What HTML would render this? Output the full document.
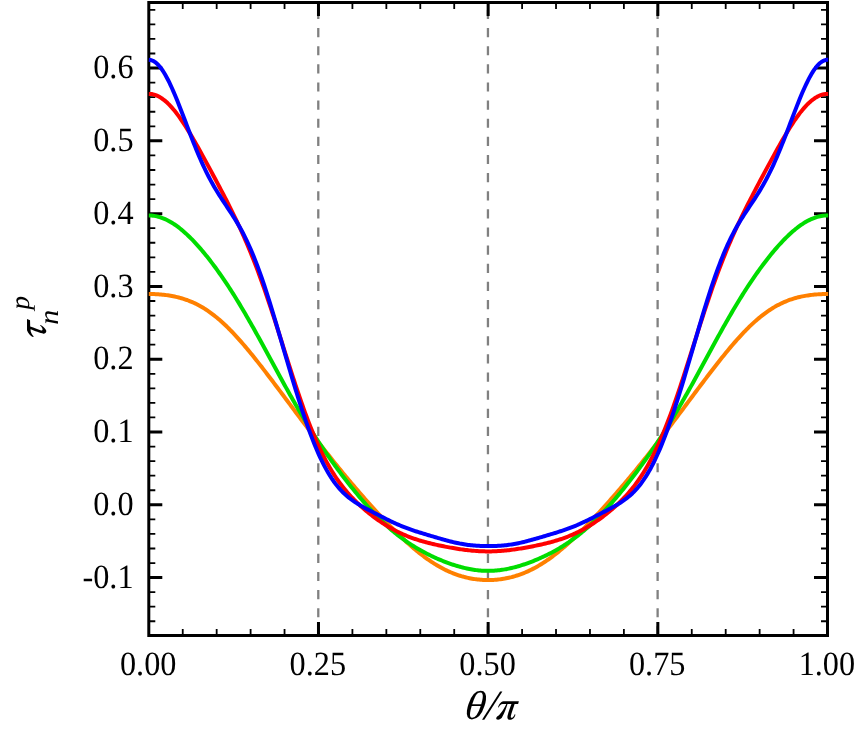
<!DOCTYPE html>
<html><head><meta charset="utf-8"><title>chart</title>
<style>
html,body{margin:0;padding:0;background:#fff;}
body{width:859px;height:739px;position:relative;overflow:hidden;font-family:"Liberation Serif",serif;}
.t{font-family:"Liberation Serif",serif;fill:#000;text-rendering:geometricPrecision;}
</style></head><body>
<svg width="859" height="739" viewBox="0 0 859 739" style="position:absolute;left:0;top:0">
<rect x="0" y="0" width="859" height="739" fill="#fff"/>
<path d="M318.28,635.50 V2.50" stroke="#808080" stroke-width="2.3" stroke-dasharray="9.2 8.93" fill="none"/>
<path d="M487.95,635.50 V2.50" stroke="#808080" stroke-width="2.3" stroke-dasharray="9.2 8.93" fill="none"/>
<path d="M657.62,635.50 V2.50" stroke="#808080" stroke-width="2.3" stroke-dasharray="9.2 8.93" fill="none"/>
<rect x="148.80" y="2.50" width="678.70" height="633.00" fill="none" stroke="#000" stroke-width="3"/>
<path d="M318.48,2.50 v13.50 M318.48,635.50 v-13.50 M488.15,2.50 v13.50 M488.15,635.50 v-13.50 M657.83,2.50 v13.50 M657.83,635.50 v-13.50 M148.80,577.60 h13.50 M827.50,577.60 h-13.50 M148.80,504.81 h13.50 M827.50,504.81 h-13.50 M148.80,432.02 h13.50 M827.50,432.02 h-13.50 M148.80,359.23 h13.50 M827.50,359.23 h-13.50 M148.80,286.44 h13.50 M827.50,286.44 h-13.50 M148.80,213.65 h13.50 M827.50,213.65 h-13.50 M148.80,140.86 h13.50 M827.50,140.86 h-13.50 M148.80,68.07 h13.50 M827.50,68.07 h-13.50" stroke="#000" stroke-width="3" fill="none"/>
<path d="M182.74,2.50 v6.50 M182.74,635.50 v-6.50 M216.67,2.50 v6.50 M216.67,635.50 v-6.50 M250.61,2.50 v6.50 M250.61,635.50 v-6.50 M284.54,2.50 v6.50 M284.54,635.50 v-6.50 M352.41,2.50 v6.50 M352.41,635.50 v-6.50 M386.35,2.50 v6.50 M386.35,635.50 v-6.50 M420.28,2.50 v6.50 M420.28,635.50 v-6.50 M454.22,2.50 v6.50 M454.22,635.50 v-6.50 M522.09,2.50 v6.50 M522.09,635.50 v-6.50 M556.02,2.50 v6.50 M556.02,635.50 v-6.50 M589.96,2.50 v6.50 M589.96,635.50 v-6.50 M623.89,2.50 v6.50 M623.89,635.50 v-6.50 M691.76,2.50 v6.50 M691.76,635.50 v-6.50 M725.70,2.50 v6.50 M725.70,635.50 v-6.50 M759.63,2.50 v6.50 M759.63,635.50 v-6.50 M793.57,2.50 v6.50 M793.57,635.50 v-6.50 M148.80,621.27 h6.50 M827.50,621.27 h-6.50 M148.80,606.72 h6.50 M827.50,606.72 h-6.50 M148.80,592.16 h6.50 M827.50,592.16 h-6.50 M148.80,563.04 h6.50 M827.50,563.04 h-6.50 M148.80,548.48 h6.50 M827.50,548.48 h-6.50 M148.80,533.93 h6.50 M827.50,533.93 h-6.50 M148.80,519.37 h6.50 M827.50,519.37 h-6.50 M148.80,490.25 h6.50 M827.50,490.25 h-6.50 M148.80,475.69 h6.50 M827.50,475.69 h-6.50 M148.80,461.14 h6.50 M827.50,461.14 h-6.50 M148.80,446.58 h6.50 M827.50,446.58 h-6.50 M148.80,417.46 h6.50 M827.50,417.46 h-6.50 M148.80,402.90 h6.50 M827.50,402.90 h-6.50 M148.80,388.35 h6.50 M827.50,388.35 h-6.50 M148.80,373.79 h6.50 M827.50,373.79 h-6.50 M148.80,344.67 h6.50 M827.50,344.67 h-6.50 M148.80,330.11 h6.50 M827.50,330.11 h-6.50 M148.80,315.56 h6.50 M827.50,315.56 h-6.50 M148.80,301.00 h6.50 M827.50,301.00 h-6.50 M148.80,271.88 h6.50 M827.50,271.88 h-6.50 M148.80,257.32 h6.50 M827.50,257.32 h-6.50 M148.80,242.77 h6.50 M827.50,242.77 h-6.50 M148.80,228.21 h6.50 M827.50,228.21 h-6.50 M148.80,199.09 h6.50 M827.50,199.09 h-6.50 M148.80,184.53 h6.50 M827.50,184.53 h-6.50 M148.80,169.98 h6.50 M827.50,169.98 h-6.50 M148.80,155.42 h6.50 M827.50,155.42 h-6.50 M148.80,126.30 h6.50 M827.50,126.30 h-6.50 M148.80,111.74 h6.50 M827.50,111.74 h-6.50 M148.80,97.19 h6.50 M827.50,97.19 h-6.50 M148.80,82.63 h6.50 M827.50,82.63 h-6.50 M148.80,53.51 h6.50 M827.50,53.51 h-6.50 M148.80,38.95 h6.50 M827.50,38.95 h-6.50 M148.80,24.40 h6.50 M827.50,24.40 h-6.50 M148.80,9.84 h6.50 M827.50,9.84 h-6.50" stroke="#000" stroke-width="1.8" fill="none"/>
<path d="M148.80,294.01 L150.16,294.02 L151.52,294.04 L152.88,294.07 L154.24,294.11 L155.59,294.17 L156.95,294.24 L158.31,294.33 L159.67,294.43 L161.03,294.54 L162.39,294.66 L163.75,294.80 L165.11,294.96 L166.46,295.13 L167.82,295.32 L169.18,295.53 L170.54,295.75 L171.90,295.99 L173.26,296.25 L174.62,296.53 L175.98,296.83 L177.33,297.14 L178.69,297.48 L180.05,297.84 L181.41,298.23 L182.77,298.63 L184.13,299.06 L185.49,299.52 L186.85,299.99 L188.21,300.50 L189.56,301.03 L190.92,301.58 L192.28,302.16 L193.64,302.77 L195.00,303.41 L196.36,304.07 L197.72,304.77 L199.08,305.49 L200.43,306.24 L201.79,307.02 L203.15,307.83 L204.51,308.67 L205.87,309.54 L207.23,310.43 L208.59,311.36 L209.95,312.32 L211.30,313.31 L212.66,314.32 L214.02,315.37 L215.38,316.45 L216.74,317.55 L218.10,318.69 L219.46,319.85 L220.82,321.04 L222.18,322.25 L223.53,323.50 L224.89,324.77 L226.25,326.07 L227.61,327.39 L228.97,328.74 L230.33,330.11 L231.69,331.50 L233.05,332.92 L234.40,334.36 L235.76,335.83 L237.12,337.31 L238.48,338.82 L239.84,340.34 L241.20,341.89 L242.56,343.45 L243.92,345.03 L245.27,346.63 L246.63,348.24 L247.99,349.87 L249.35,351.51 L250.71,353.17 L252.07,354.84 L253.43,356.52 L254.79,358.22 L256.15,359.92 L257.50,361.64 L258.86,363.37 L260.22,365.11 L261.58,366.85 L262.94,368.61 L264.30,370.37 L265.66,372.14 L267.02,373.91 L268.37,375.69 L269.73,377.48 L271.09,379.27 L272.45,381.07 L273.81,382.87 L275.17,384.67 L276.53,386.48 L277.89,388.29 L279.24,390.11 L280.60,391.92 L281.96,393.74 L283.32,395.56 L284.68,397.38 L286.04,399.20 L287.40,401.02 L288.76,402.84 L290.12,404.66 L291.47,406.48 L292.83,408.30 L294.19,410.12 L295.55,411.93 L296.91,413.75 L298.27,415.56 L299.63,417.38 L300.99,419.19 L302.34,420.99 L303.70,422.80 L305.06,424.60 L306.42,426.40 L307.78,428.19 L309.14,429.99 L310.50,431.77 L311.86,433.56 L313.21,435.34 L314.57,437.11 L315.93,438.88 L317.29,440.65 L318.65,442.41 L320.01,444.17 L321.37,445.92 L322.73,447.67 L324.09,449.41 L325.44,451.15 L326.80,452.88 L328.16,454.60 L329.52,456.32 L330.88,458.03 L332.24,459.74 L333.60,461.44 L334.96,463.13 L336.31,464.82 L337.67,466.50 L339.03,468.17 L340.39,469.84 L341.75,471.50 L343.11,473.16 L344.47,474.80 L345.83,476.44 L347.18,478.08 L348.54,479.71 L349.90,481.33 L351.26,482.94 L352.62,484.55 L353.98,486.15 L355.34,487.74 L356.70,489.33 L358.06,490.91 L359.41,492.48 L360.77,494.05 L362.13,495.61 L363.49,497.16 L364.85,498.70 L366.21,500.24 L367.57,501.77 L368.93,503.30 L370.28,504.81 L371.64,506.32 L373.00,507.82 L374.36,509.32 L375.72,510.81 L377.08,512.29 L378.44,513.76 L379.80,515.22 L381.15,516.68 L382.51,518.12 L383.87,519.56 L385.23,520.99 L386.59,522.41 L387.95,523.82 L389.31,525.22 L390.67,526.61 L392.03,527.99 L393.38,529.36 L394.74,530.72 L396.10,532.07 L397.46,533.41 L398.82,534.73 L400.18,536.05 L401.54,537.34 L402.90,538.63 L404.25,539.90 L405.61,541.16 L406.97,542.40 L408.33,543.63 L409.69,544.84 L411.05,546.04 L412.41,547.22 L413.77,548.39 L415.12,549.53 L416.48,550.66 L417.84,551.77 L419.20,552.87 L420.56,553.94 L421.92,555.00 L423.28,556.03 L424.64,557.05 L426.00,558.04 L427.35,559.01 L428.71,559.97 L430.07,560.90 L431.43,561.81 L432.79,562.70 L434.15,563.57 L435.51,564.41 L436.87,565.23 L438.22,566.03 L439.58,566.81 L440.94,567.57 L442.30,568.30 L443.66,569.01 L445.02,569.69 L446.38,570.36 L447.74,571.00 L449.09,571.61 L450.45,572.21 L451.81,572.78 L453.17,573.33 L454.53,573.85 L455.89,574.36 L457.25,574.84 L458.61,575.30 L459.97,575.73 L461.32,576.15 L462.68,576.54 L464.04,576.91 L465.40,577.26 L466.76,577.59 L468.12,577.90 L469.48,578.18 L470.84,578.45 L472.19,578.69 L473.55,578.92 L474.91,579.12 L476.27,579.30 L477.63,579.47 L478.99,579.61 L480.35,579.73 L481.71,579.83 L483.06,579.92 L484.42,579.98 L485.78,580.03 L487.14,580.05 L488.50,580.05 L489.86,580.04 L491.22,580.01 L492.58,579.95 L493.94,579.88 L495.29,579.78 L496.65,579.67 L498.01,579.54 L499.37,579.38 L500.73,579.21 L502.09,579.02 L503.45,578.80 L504.81,578.57 L506.16,578.31 L507.52,578.04 L508.88,577.74 L510.24,577.42 L511.60,577.09 L512.96,576.72 L514.32,576.34 L515.68,575.94 L517.03,575.51 L518.39,575.06 L519.75,574.59 L521.11,574.10 L522.47,573.59 L523.83,573.05 L525.19,572.49 L526.55,571.90 L527.91,571.30 L529.26,570.67 L530.62,570.02 L531.98,569.34 L533.34,568.64 L534.70,567.92 L536.06,567.18 L537.42,566.41 L538.78,565.62 L540.13,564.81 L541.49,563.98 L542.85,563.12 L544.21,562.24 L545.57,561.34 L546.93,560.42 L548.29,559.48 L549.65,558.52 L551.00,557.53 L552.36,556.53 L553.72,555.50 L555.08,554.45 L556.44,553.39 L557.80,552.31 L559.16,551.20 L560.52,550.08 L561.88,548.94 L563.23,547.79 L564.59,546.62 L565.95,545.43 L567.31,544.22 L568.67,543.00 L570.03,541.76 L571.39,540.51 L572.75,539.25 L574.10,537.97 L575.46,536.68 L576.82,535.37 L578.18,534.05 L579.54,532.72 L580.90,531.38 L582.26,530.03 L583.62,528.66 L584.97,527.28 L586.33,525.90 L587.69,524.50 L589.05,523.10 L590.41,521.68 L591.77,520.25 L593.13,518.82 L594.49,517.38 L595.85,515.93 L597.20,514.47 L598.56,513.00 L599.92,511.52 L601.28,510.04 L602.64,508.55 L604.00,507.05 L605.36,505.55 L606.72,504.03 L608.07,502.51 L609.43,500.98 L610.79,499.45 L612.15,497.91 L613.51,496.36 L614.87,494.80 L616.23,493.24 L617.59,491.67 L618.94,490.10 L620.30,488.51 L621.66,486.92 L623.02,485.32 L624.38,483.72 L625.74,482.11 L627.10,480.49 L628.46,478.87 L629.82,477.24 L631.17,475.60 L632.53,473.96 L633.89,472.30 L635.25,470.65 L636.61,468.98 L637.97,467.31 L639.33,465.63 L640.69,463.95 L642.04,462.26 L643.40,460.56 L644.76,458.86 L646.12,457.15 L647.48,455.43 L648.84,453.71 L650.20,451.99 L651.56,450.25 L652.91,448.51 L654.27,446.77 L655.63,445.02 L656.99,443.27 L658.35,441.51 L659.71,439.74 L661.07,437.97 L662.43,436.20 L663.79,434.42 L665.14,432.64 L666.50,430.85 L667.86,429.06 L669.22,427.27 L670.58,425.47 L671.94,423.67 L673.30,421.87 L674.66,420.06 L676.01,418.25 L677.37,416.44 L678.73,414.63 L680.09,412.81 L681.45,411.00 L682.81,409.18 L684.17,407.36 L685.53,405.54 L686.88,403.72 L688.24,401.90 L689.60,400.08 L690.96,398.26 L692.32,396.44 L693.68,394.62 L695.04,392.80 L696.40,390.99 L697.76,389.17 L699.11,387.36 L700.47,385.55 L701.83,383.74 L703.19,381.94 L704.55,380.14 L705.91,378.35 L707.27,376.56 L708.63,374.77 L709.98,373.00 L711.34,371.22 L712.70,369.46 L714.06,367.70 L715.42,365.95 L716.78,364.21 L718.14,362.48 L719.50,360.76 L720.85,359.04 L722.21,357.34 L723.57,355.65 L724.93,353.98 L726.29,352.31 L727.65,350.66 L729.01,349.03 L730.37,347.41 L731.73,345.80 L733.08,344.21 L734.44,342.64 L735.80,341.09 L737.16,339.55 L738.52,338.04 L739.88,336.54 L741.24,335.07 L742.60,333.62 L743.95,332.19 L745.31,330.78 L746.67,329.40 L748.03,328.04 L749.39,326.70 L750.75,325.39 L752.11,324.11 L753.47,322.85 L754.82,321.62 L756.18,320.42 L757.54,319.24 L758.90,318.10 L760.26,316.98 L761.62,315.89 L762.98,314.83 L764.34,313.80 L765.70,312.80 L767.05,311.82 L768.41,310.88 L769.77,309.97 L771.13,309.08 L772.49,308.23 L773.85,307.41 L775.21,306.61 L776.57,305.85 L777.92,305.11 L779.28,304.41 L780.64,303.73 L782.00,303.08 L783.36,302.45 L784.72,301.86 L786.08,301.29 L787.44,300.75 L788.79,300.23 L790.15,299.74 L791.51,299.28 L792.87,298.84 L794.23,298.42 L795.59,298.03 L796.95,297.66 L798.31,297.31 L799.67,296.98 L801.02,296.67 L802.38,296.38 L803.74,296.11 L805.10,295.86 L806.46,295.63 L807.82,295.42 L809.18,295.22 L810.54,295.04 L811.89,294.88 L813.25,294.73 L814.61,294.60 L815.97,294.48 L817.33,294.37 L818.69,294.28 L820.05,294.20 L821.41,294.14 L822.76,294.09 L824.12,294.05 L825.48,294.03 L826.84,294.01 L828.20,294.02" stroke="#ff8000" stroke-width="4" fill="none" stroke-linejoin="round"/>
<path d="M148.80,215.47 L150.16,215.49 L151.52,215.57 L152.88,215.70 L154.24,215.88 L155.59,216.11 L156.95,216.40 L158.31,216.73 L159.67,217.12 L161.03,217.55 L162.39,218.03 L163.75,218.57 L165.11,219.15 L166.46,219.77 L167.82,220.45 L169.18,221.17 L170.54,221.94 L171.90,222.75 L173.26,223.61 L174.62,224.50 L175.98,225.44 L177.33,226.43 L178.69,227.45 L180.05,228.51 L181.41,229.61 L182.77,230.75 L184.13,231.93 L185.49,233.14 L186.85,234.39 L188.21,235.67 L189.56,236.99 L190.92,238.33 L192.28,239.72 L193.64,241.13 L195.00,242.57 L196.36,244.05 L197.72,245.55 L199.08,247.08 L200.43,248.64 L201.79,250.23 L203.15,251.85 L204.51,253.49 L205.87,255.16 L207.23,256.85 L208.59,258.57 L209.95,260.32 L211.30,262.09 L212.66,263.89 L214.02,265.71 L215.38,267.55 L216.74,269.42 L218.10,271.31 L219.46,273.23 L220.82,275.17 L222.18,277.13 L223.53,279.11 L224.89,281.12 L226.25,283.15 L227.61,285.20 L228.97,287.28 L230.33,289.38 L231.69,291.50 L233.05,293.64 L234.40,295.80 L235.76,297.98 L237.12,300.19 L238.48,302.41 L239.84,304.65 L241.20,306.92 L242.56,309.20 L243.92,311.50 L245.27,313.82 L246.63,316.15 L247.99,318.51 L249.35,320.88 L250.71,323.26 L252.07,325.66 L253.43,328.07 L254.79,330.49 L256.15,332.93 L257.50,335.38 L258.86,337.84 L260.22,340.31 L261.58,342.78 L262.94,345.27 L264.30,347.76 L265.66,350.26 L267.02,352.76 L268.37,355.26 L269.73,357.77 L271.09,360.27 L272.45,362.78 L273.81,365.29 L275.17,367.79 L276.53,370.29 L277.89,372.79 L279.24,375.28 L280.60,377.76 L281.96,380.24 L283.32,382.71 L284.68,385.17 L286.04,387.62 L287.40,390.07 L288.76,392.49 L290.12,394.91 L291.47,397.31 L292.83,399.70 L294.19,402.08 L295.55,404.44 L296.91,406.79 L298.27,409.12 L299.63,411.43 L300.99,413.73 L302.34,416.01 L303.70,418.27 L305.06,420.52 L306.42,422.74 L307.78,424.95 L309.14,427.15 L310.50,429.32 L311.86,431.48 L313.21,433.61 L314.57,435.73 L315.93,437.84 L317.29,439.92 L318.65,441.99 L320.01,444.04 L321.37,446.08 L322.73,448.09 L324.09,450.09 L325.44,452.08 L326.80,454.05 L328.16,456.00 L329.52,457.93 L330.88,459.85 L332.24,461.76 L333.60,463.65 L334.96,465.53 L336.31,467.39 L337.67,469.23 L339.03,471.06 L340.39,472.88 L341.75,474.69 L343.11,476.48 L344.47,478.25 L345.83,480.01 L347.18,481.76 L348.54,483.50 L349.90,485.21 L351.26,486.92 L352.62,488.61 L353.98,490.29 L355.34,491.95 L356.70,493.60 L358.06,495.23 L359.41,496.85 L360.77,498.45 L362.13,500.04 L363.49,501.61 L364.85,503.16 L366.21,504.70 L367.57,506.22 L368.93,507.72 L370.28,509.21 L371.64,510.68 L373.00,512.13 L374.36,513.56 L375.72,514.97 L377.08,516.37 L378.44,517.74 L379.80,519.09 L381.15,520.43 L382.51,521.74 L383.87,523.04 L385.23,524.31 L386.59,525.56 L387.95,526.80 L389.31,528.01 L390.67,529.20 L392.03,530.37 L393.38,531.52 L394.74,532.64 L396.10,533.75 L397.46,534.84 L398.82,535.90 L400.18,536.95 L401.54,537.97 L402.90,538.98 L404.25,539.96 L405.61,540.93 L406.97,541.87 L408.33,542.80 L409.69,543.71 L411.05,544.60 L412.41,545.47 L413.77,546.32 L415.12,547.16 L416.48,547.98 L417.84,548.78 L419.20,549.57 L420.56,550.34 L421.92,551.09 L423.28,551.83 L424.64,552.56 L426.00,553.27 L427.35,553.96 L428.71,554.65 L430.07,555.32 L431.43,555.97 L432.79,556.61 L434.15,557.24 L435.51,557.86 L436.87,558.47 L438.22,559.06 L439.58,559.64 L440.94,560.20 L442.30,560.76 L443.66,561.30 L445.02,561.83 L446.38,562.35 L447.74,562.85 L449.09,563.34 L450.45,563.82 L451.81,564.29 L453.17,564.74 L454.53,565.18 L455.89,565.61 L457.25,566.02 L458.61,566.42 L459.97,566.80 L461.32,567.16 L462.68,567.52 L464.04,567.85 L465.40,568.17 L466.76,568.48 L468.12,568.76 L469.48,569.03 L470.84,569.29 L472.19,569.52 L473.55,569.74 L474.91,569.94 L476.27,570.12 L477.63,570.28 L478.99,570.42 L480.35,570.54 L481.71,570.65 L483.06,570.73 L484.42,570.80 L485.78,570.84 L487.14,570.87 L488.50,570.87 L489.86,570.86 L491.22,570.82 L492.58,570.77 L493.94,570.69 L495.29,570.60 L496.65,570.48 L498.01,570.35 L499.37,570.20 L500.73,570.03 L502.09,569.84 L503.45,569.63 L504.81,569.40 L506.16,569.16 L507.52,568.90 L508.88,568.62 L510.24,568.32 L511.60,568.01 L512.96,567.68 L514.32,567.34 L515.68,566.98 L517.03,566.60 L518.39,566.21 L519.75,565.81 L521.11,565.39 L522.47,564.96 L523.83,564.51 L525.19,564.05 L526.55,563.58 L527.91,563.09 L529.26,562.59 L530.62,562.08 L531.98,561.56 L533.34,561.02 L534.70,560.47 L536.06,559.91 L537.42,559.34 L538.78,558.75 L540.13,558.16 L541.49,557.55 L542.85,556.92 L544.21,556.29 L545.57,555.64 L546.93,554.97 L548.29,554.30 L549.65,553.61 L551.00,552.90 L552.36,552.19 L553.72,551.45 L555.08,550.71 L556.44,549.94 L557.80,549.16 L559.16,548.37 L560.52,547.56 L561.88,546.73 L563.23,545.88 L564.59,545.02 L565.95,544.14 L567.31,543.24 L568.67,542.32 L570.03,541.39 L571.39,540.43 L572.75,539.46 L574.10,538.46 L575.46,537.45 L576.82,536.41 L578.18,535.36 L579.54,534.28 L580.90,533.18 L582.26,532.07 L583.62,530.93 L584.97,529.77 L586.33,528.59 L587.69,527.39 L589.05,526.16 L590.41,524.92 L591.77,523.66 L593.13,522.37 L594.49,521.07 L595.85,519.74 L597.20,518.40 L598.56,517.03 L599.92,515.65 L601.28,514.25 L602.64,512.82 L604.00,511.38 L605.36,509.92 L606.72,508.45 L608.07,506.95 L609.43,505.44 L610.79,503.91 L612.15,502.36 L613.51,500.80 L614.87,499.22 L616.23,497.63 L617.59,496.02 L618.94,494.39 L620.30,492.75 L621.66,491.10 L623.02,489.43 L624.38,487.74 L625.74,486.04 L627.10,484.33 L628.46,482.60 L629.82,480.86 L631.17,479.11 L632.53,477.34 L633.89,475.56 L635.25,473.76 L636.61,471.95 L637.97,470.12 L639.33,468.28 L640.69,466.43 L642.04,464.56 L643.40,462.68 L644.76,460.78 L646.12,458.87 L647.48,456.94 L648.84,454.99 L650.20,453.03 L651.56,451.06 L652.91,449.06 L654.27,447.06 L655.63,445.03 L656.99,442.99 L658.35,440.93 L659.71,438.85 L661.07,436.76 L662.43,434.64 L663.79,432.51 L665.14,430.37 L666.50,428.20 L667.86,426.02 L669.22,423.82 L670.58,421.60 L671.94,419.36 L673.30,417.11 L674.66,414.83 L676.01,412.55 L677.37,410.24 L678.73,407.92 L680.09,405.58 L681.45,403.23 L682.81,400.86 L684.17,398.48 L685.53,396.08 L686.88,393.67 L688.24,391.24 L689.60,388.81 L690.96,386.36 L692.32,383.91 L693.68,381.44 L695.04,378.97 L696.40,376.48 L697.76,374.00 L699.11,371.50 L700.47,369.00 L701.83,366.50 L703.19,364.00 L704.55,361.49 L705.91,358.98 L707.27,356.47 L708.63,353.97 L709.98,351.47 L711.34,348.97 L712.70,346.48 L714.06,343.99 L715.42,341.51 L716.78,339.04 L718.14,336.57 L719.50,334.12 L720.85,331.68 L722.21,329.24 L723.57,326.83 L724.93,324.42 L726.29,322.03 L727.65,319.65 L729.01,317.29 L730.37,314.95 L731.73,312.62 L733.08,310.31 L734.44,308.02 L735.80,305.75 L737.16,303.50 L738.52,301.26 L739.88,299.05 L741.24,296.86 L742.60,294.68 L743.95,292.53 L745.31,290.40 L746.67,288.29 L748.03,286.21 L749.39,284.14 L750.75,282.10 L752.11,280.08 L753.47,278.09 L754.82,276.11 L756.18,274.16 L757.54,272.24 L758.90,270.33 L760.26,268.45 L761.62,266.60 L762.98,264.77 L764.34,262.96 L765.70,261.17 L767.05,259.42 L768.41,257.68 L769.77,255.98 L771.13,254.29 L772.49,252.64 L773.85,251.01 L775.21,249.41 L776.57,247.83 L777.92,246.29 L779.28,244.77 L780.64,243.28 L782.00,241.82 L783.36,240.40 L784.72,239.00 L786.08,237.64 L787.44,236.30 L788.79,235.00 L790.15,233.74 L791.51,232.51 L792.87,231.32 L794.23,230.16 L795.59,229.04 L796.95,227.96 L798.31,226.92 L799.67,225.92 L801.02,224.95 L802.38,224.04 L803.74,223.16 L805.10,222.33 L806.46,221.54 L807.82,220.79 L809.18,220.10 L810.54,219.44 L811.89,218.84 L813.25,218.29 L814.61,217.78 L815.97,217.32 L817.33,216.91 L818.69,216.55 L820.05,216.24 L821.41,215.99 L822.76,215.78 L824.12,215.63 L825.48,215.52 L826.84,215.47 L828.20,215.47" stroke="#00dd00" stroke-width="4" fill="none" stroke-linejoin="round"/>
<path d="M148.80,93.89 L150.16,93.94 L151.52,94.09 L152.88,94.34 L154.24,94.69 L155.59,95.13 L156.95,95.67 L158.31,96.31 L159.67,97.04 L161.03,97.86 L162.39,98.78 L163.75,99.79 L165.11,100.88 L166.46,102.06 L167.82,103.33 L169.18,104.67 L170.54,106.10 L171.90,107.60 L173.26,109.18 L174.62,110.83 L175.98,112.54 L177.33,114.33 L178.69,116.17 L180.05,118.07 L181.41,120.04 L182.77,122.05 L184.13,124.11 L185.49,126.23 L186.85,128.38 L188.21,130.58 L189.56,132.81 L190.92,135.08 L192.28,137.38 L193.64,139.72 L195.00,142.07 L196.36,144.46 L197.72,146.86 L199.08,149.28 L200.43,151.72 L201.79,154.18 L203.15,156.65 L204.51,159.13 L205.87,161.62 L207.23,164.13 L208.59,166.64 L209.95,169.16 L211.30,171.68 L212.66,174.22 L214.02,176.76 L215.38,179.30 L216.74,181.86 L218.10,184.42 L219.46,187.00 L220.82,189.58 L222.18,192.17 L223.53,194.78 L224.89,197.40 L226.25,200.04 L227.61,202.70 L228.97,205.37 L230.33,208.07 L231.69,210.79 L233.05,213.54 L234.40,216.32 L235.76,219.13 L237.12,221.98 L238.48,224.86 L239.84,227.78 L241.20,230.74 L242.56,233.75 L243.92,236.80 L245.27,239.90 L246.63,243.05 L247.99,246.24 L249.35,249.50 L250.71,252.80 L252.07,256.16 L253.43,259.58 L254.79,263.05 L256.15,266.58 L257.50,270.17 L258.86,273.81 L260.22,277.51 L261.58,281.26 L262.94,285.07 L264.30,288.93 L265.66,292.84 L267.02,296.80 L268.37,300.81 L269.73,304.86 L271.09,308.95 L272.45,313.08 L273.81,317.25 L275.17,321.44 L276.53,325.66 L277.89,329.91 L279.24,334.17 L280.60,338.45 L281.96,342.73 L283.32,347.02 L284.68,351.32 L286.04,355.60 L287.40,359.88 L288.76,364.15 L290.12,368.39 L291.47,372.61 L292.83,376.81 L294.19,380.97 L295.55,385.09 L296.91,389.17 L298.27,393.21 L299.63,397.19 L300.99,401.13 L302.34,405.00 L303.70,408.81 L305.06,412.56 L306.42,416.25 L307.78,419.86 L309.14,423.40 L310.50,426.87 L311.86,430.26 L313.21,433.58 L314.57,436.81 L315.93,439.97 L317.29,443.05 L318.65,446.05 L320.01,448.97 L321.37,451.81 L322.73,454.56 L324.09,457.24 L325.44,459.85 L326.80,462.37 L328.16,464.82 L329.52,467.20 L330.88,469.50 L332.24,471.73 L333.60,473.90 L334.96,475.99 L336.31,478.03 L337.67,480.00 L339.03,481.91 L340.39,483.76 L341.75,485.56 L343.11,487.30 L344.47,489.00 L345.83,490.64 L347.18,492.24 L348.54,493.80 L349.90,495.31 L351.26,496.79 L352.62,498.22 L353.98,499.62 L355.34,500.99 L356.70,502.33 L358.06,503.63 L359.41,504.91 L360.77,506.15 L362.13,507.37 L363.49,508.57 L364.85,509.74 L366.21,510.89 L367.57,512.01 L368.93,513.12 L370.28,514.20 L371.64,515.26 L373.00,516.30 L374.36,517.32 L375.72,518.32 L377.08,519.30 L378.44,520.27 L379.80,521.21 L381.15,522.13 L382.51,523.03 L383.87,523.92 L385.23,524.78 L386.59,525.63 L387.95,526.45 L389.31,527.26 L390.67,528.05 L392.03,528.81 L393.38,529.56 L394.74,530.29 L396.10,531.00 L397.46,531.69 L398.82,532.36 L400.18,533.01 L401.54,533.64 L402.90,534.26 L404.25,534.85 L405.61,535.43 L406.97,535.99 L408.33,536.54 L409.69,537.06 L411.05,537.57 L412.41,538.07 L413.77,538.55 L415.12,539.01 L416.48,539.46 L417.84,539.90 L419.20,540.32 L420.56,540.73 L421.92,541.13 L423.28,541.52 L424.64,541.90 L426.00,542.27 L427.35,542.62 L428.71,542.97 L430.07,543.31 L431.43,543.64 L432.79,543.97 L434.15,544.28 L435.51,544.59 L436.87,544.90 L438.22,545.19 L439.58,545.48 L440.94,545.77 L442.30,546.05 L443.66,546.32 L445.02,546.59 L446.38,546.85 L447.74,547.11 L449.09,547.36 L450.45,547.60 L451.81,547.84 L453.17,548.08 L454.53,548.31 L455.89,548.53 L457.25,548.75 L458.61,548.96 L459.97,549.16 L461.32,549.36 L462.68,549.55 L464.04,549.73 L465.40,549.90 L466.76,550.07 L468.12,550.23 L469.48,550.38 L470.84,550.52 L472.19,550.65 L473.55,550.77 L474.91,550.88 L476.27,550.98 L477.63,551.07 L478.99,551.15 L480.35,551.22 L481.71,551.28 L483.06,551.33 L484.42,551.37 L485.78,551.39 L487.14,551.41 L488.50,551.41 L489.86,551.40 L491.22,551.38 L492.58,551.35 L493.94,551.31 L495.29,551.25 L496.65,551.19 L498.01,551.11 L499.37,551.03 L500.73,550.93 L502.09,550.82 L503.45,550.71 L504.81,550.58 L506.16,550.45 L507.52,550.30 L508.88,550.15 L510.24,549.99 L511.60,549.82 L512.96,549.64 L514.32,549.45 L515.68,549.26 L517.03,549.06 L518.39,548.85 L519.75,548.64 L521.11,548.42 L522.47,548.19 L523.83,547.96 L525.19,547.72 L526.55,547.48 L527.91,547.23 L529.26,546.97 L530.62,546.71 L531.98,546.45 L533.34,546.18 L534.70,545.90 L536.06,545.62 L537.42,545.33 L538.78,545.04 L540.13,544.74 L541.49,544.43 L542.85,544.12 L544.21,543.80 L545.57,543.47 L546.93,543.14 L548.29,542.79 L549.65,542.44 L551.00,542.08 L552.36,541.71 L553.72,541.32 L555.08,540.93 L556.44,540.52 L557.80,540.11 L559.16,539.68 L560.52,539.23 L561.88,538.77 L563.23,538.30 L564.59,537.82 L565.95,537.31 L567.31,536.79 L568.67,536.26 L570.03,535.71 L571.39,535.14 L572.75,534.55 L574.10,533.94 L575.46,533.32 L576.82,532.68 L578.18,532.02 L579.54,531.34 L580.90,530.64 L582.26,529.92 L583.62,529.18 L584.97,528.42 L586.33,527.64 L587.69,526.85 L589.05,526.03 L590.41,525.19 L591.77,524.34 L593.13,523.46 L594.49,522.57 L595.85,521.66 L597.20,520.72 L598.56,519.77 L599.92,518.80 L601.28,517.81 L602.64,516.80 L604.00,515.77 L605.36,514.72 L606.72,513.65 L608.07,512.55 L609.43,511.44 L610.79,510.30 L612.15,509.14 L613.51,507.96 L614.87,506.75 L616.23,505.51 L617.59,504.25 L618.94,502.96 L620.30,501.64 L621.66,500.29 L623.02,498.91 L624.38,497.49 L625.74,496.03 L627.10,494.54 L628.46,493.00 L629.82,491.42 L631.17,489.80 L632.53,488.13 L633.89,486.41 L635.25,484.64 L636.61,482.81 L637.97,480.93 L639.33,478.99 L640.69,476.99 L642.04,474.92 L643.40,472.79 L644.76,470.59 L646.12,468.32 L647.48,465.98 L648.84,463.57 L650.20,461.08 L651.56,458.52 L652.91,455.87 L654.27,453.15 L655.63,450.35 L656.99,447.47 L658.35,444.52 L659.71,441.48 L661.07,438.36 L662.43,435.16 L663.79,431.88 L665.14,428.52 L666.50,425.09 L667.86,421.59 L669.22,418.01 L670.58,414.36 L671.94,410.64 L673.30,406.86 L674.66,403.01 L676.01,399.11 L677.37,395.15 L678.73,391.13 L680.09,387.08 L681.45,382.97 L682.81,378.83 L684.17,374.65 L685.53,370.44 L686.88,366.21 L688.24,361.95 L689.60,357.68 L690.96,353.40 L692.32,349.11 L693.68,344.81 L695.04,340.52 L696.40,336.24 L697.76,331.97 L699.11,327.72 L700.47,323.48 L701.83,319.28 L703.19,315.10 L704.55,310.95 L705.91,306.84 L707.27,302.77 L708.63,298.74 L709.98,294.76 L711.34,290.82 L712.70,286.94 L714.06,283.10 L715.42,279.32 L716.78,275.60 L718.14,271.93 L719.50,268.31 L720.85,264.76 L722.21,261.26 L723.57,257.81 L724.93,254.42 L726.29,251.09 L727.65,247.81 L729.01,244.59 L730.37,241.42 L731.73,238.30 L733.08,235.22 L734.44,232.19 L735.80,229.21 L737.16,226.27 L738.52,223.37 L739.88,220.51 L741.24,217.68 L742.60,214.89 L743.95,212.12 L745.31,209.39 L746.67,206.68 L748.03,203.99 L749.39,201.32 L750.75,198.68 L752.11,196.05 L753.47,193.44 L754.82,190.83 L756.18,188.25 L757.54,185.67 L758.90,183.10 L760.26,180.54 L761.62,177.99 L762.98,175.45 L764.34,172.91 L765.70,170.38 L767.05,167.86 L768.41,165.34 L769.77,162.84 L771.13,160.34 L772.49,157.85 L773.85,155.38 L775.21,152.91 L776.57,150.46 L777.92,148.03 L779.28,145.62 L780.64,143.23 L782.00,140.86 L783.36,138.51 L784.72,136.19 L786.08,133.91 L787.44,131.66 L788.79,129.44 L790.15,127.27 L791.51,125.13 L792.87,123.04 L794.23,121.01 L795.59,119.02 L796.95,117.09 L798.31,115.21 L799.67,113.40 L801.02,111.65 L802.38,109.97 L803.74,108.36 L805.10,106.82 L806.46,105.35 L807.82,103.97 L809.18,102.66 L810.54,101.44 L811.89,100.31 L813.25,99.26 L814.61,98.30 L815.97,97.43 L817.33,96.65 L818.69,95.97 L820.05,95.38 L821.41,94.89 L822.76,94.50 L824.12,94.20 L825.48,94.00 L826.84,93.91 L828.20,93.91" stroke="#ff0000" stroke-width="4" fill="none" stroke-linejoin="round"/>
<path d="M148.80,59.83 L150.16,59.93 L151.52,60.25 L152.88,60.79 L154.24,61.53 L155.59,62.48 L156.95,63.63 L158.31,64.98 L159.67,66.53 L161.03,68.26 L162.39,70.18 L163.75,72.27 L165.11,74.52 L166.46,76.94 L167.82,79.50 L169.18,82.21 L170.54,85.05 L171.90,88.00 L173.26,91.07 L174.62,94.24 L175.98,97.49 L177.33,100.83 L178.69,104.23 L180.05,107.68 L181.41,111.18 L182.77,114.71 L184.13,118.27 L185.49,121.83 L186.85,125.40 L188.21,128.96 L189.56,132.51 L190.92,136.03 L192.28,139.51 L193.64,142.95 L195.00,146.34 L196.36,149.68 L197.72,152.95 L199.08,156.16 L200.43,159.30 L201.79,162.36 L203.15,165.35 L204.51,168.26 L205.87,171.09 L207.23,173.84 L208.59,176.51 L209.95,179.11 L211.30,181.63 L212.66,184.08 L214.02,186.46 L215.38,188.77 L216.74,191.03 L218.10,193.24 L219.46,195.40 L220.82,197.52 L222.18,199.61 L223.53,201.67 L224.89,203.71 L226.25,205.75 L227.61,207.78 L228.97,209.82 L230.33,211.87 L231.69,213.95 L233.05,216.06 L234.40,218.20 L235.76,220.40 L237.12,222.64 L238.48,224.95 L239.84,227.32 L241.20,229.77 L242.56,232.29 L243.92,234.90 L245.27,237.59 L246.63,240.38 L247.99,243.26 L249.35,246.23 L250.71,249.31 L252.07,252.49 L253.43,255.76 L254.79,259.14 L256.15,262.62 L257.50,266.20 L258.86,269.87 L260.22,273.64 L261.58,277.50 L262.94,281.45 L264.30,285.49 L265.66,289.61 L267.02,293.80 L268.37,298.07 L269.73,302.40 L271.09,306.79 L272.45,311.24 L273.81,315.73 L275.17,320.27 L276.53,324.85 L277.89,329.46 L279.24,334.09 L280.60,338.74 L281.96,343.41 L283.32,348.08 L284.68,352.75 L286.04,357.41 L287.40,362.06 L288.76,366.69 L290.12,371.30 L291.47,375.88 L292.83,380.42 L294.19,384.92 L295.55,389.38 L296.91,393.78 L298.27,398.13 L299.63,402.42 L300.99,406.65 L302.34,410.80 L303.70,414.88 L305.06,418.89 L306.42,422.82 L307.78,426.66 L309.14,430.42 L310.50,434.08 L311.86,437.66 L313.21,441.14 L314.57,444.52 L315.93,447.81 L317.29,450.99 L318.65,454.08 L320.01,457.06 L321.37,459.93 L322.73,462.71 L324.09,465.37 L325.44,467.94 L326.80,470.40 L328.16,472.76 L329.52,475.02 L330.88,477.18 L332.24,479.25 L333.60,481.21 L334.96,483.08 L336.31,484.87 L337.67,486.56 L339.03,488.17 L340.39,489.70 L341.75,491.15 L343.11,492.53 L344.47,493.84 L345.83,495.08 L347.18,496.26 L348.54,497.39 L349.90,498.46 L351.26,499.48 L352.62,500.46 L353.98,501.40 L355.34,502.30 L356.70,503.17 L358.06,504.01 L359.41,504.82 L360.77,505.62 L362.13,506.39 L363.49,507.15 L364.85,507.90 L366.21,508.64 L367.57,509.36 L368.93,510.09 L370.28,510.80 L371.64,511.51 L373.00,512.22 L374.36,512.93 L375.72,513.64 L377.08,514.34 L378.44,515.04 L379.80,515.74 L381.15,516.44 L382.51,517.14 L383.87,517.83 L385.23,518.52 L386.59,519.20 L387.95,519.87 L389.31,520.54 L390.67,521.20 L392.03,521.85 L393.38,522.49 L394.74,523.12 L396.10,523.74 L397.46,524.34 L398.82,524.93 L400.18,525.51 L401.54,526.08 L402.90,526.63 L404.25,527.17 L405.61,527.70 L406.97,528.21 L408.33,528.71 L409.69,529.20 L411.05,529.68 L412.41,530.14 L413.77,530.60 L415.12,531.05 L416.48,531.49 L417.84,531.92 L419.20,532.35 L420.56,532.77 L421.92,533.19 L423.28,533.60 L424.64,534.01 L426.00,534.42 L427.35,534.83 L428.71,535.24 L430.07,535.64 L431.43,536.05 L432.79,536.45 L434.15,536.85 L435.51,537.25 L436.87,537.65 L438.22,538.05 L439.58,538.45 L440.94,538.84 L442.30,539.23 L443.66,539.62 L445.02,540.00 L446.38,540.37 L447.74,540.74 L449.09,541.10 L450.45,541.45 L451.81,541.79 L453.17,542.12 L454.53,542.44 L455.89,542.74 L457.25,543.04 L458.61,543.32 L459.97,543.59 L461.32,543.84 L462.68,544.08 L464.04,544.31 L465.40,544.52 L466.76,544.72 L468.12,544.90 L469.48,545.07 L470.84,545.22 L472.19,545.36 L473.55,545.49 L474.91,545.61 L476.27,545.71 L477.63,545.80 L478.99,545.87 L480.35,545.94 L481.71,545.99 L483.06,546.04 L484.42,546.07 L485.78,546.09 L487.14,546.11 L488.50,546.11 L489.86,546.10 L491.22,546.08 L492.58,546.06 L493.94,546.02 L495.29,545.97 L496.65,545.91 L498.01,545.84 L499.37,545.75 L500.73,545.66 L502.09,545.55 L503.45,545.43 L504.81,545.29 L506.16,545.15 L507.52,544.98 L508.88,544.81 L510.24,544.62 L511.60,544.41 L512.96,544.19 L514.32,543.96 L515.68,543.71 L517.03,543.45 L518.39,543.18 L519.75,542.89 L521.11,542.59 L522.47,542.27 L523.83,541.95 L525.19,541.61 L526.55,541.27 L527.91,540.91 L529.26,540.55 L530.62,540.18 L531.98,539.80 L533.34,539.42 L534.70,539.03 L536.06,538.64 L537.42,538.24 L538.78,537.85 L540.13,537.45 L541.49,537.05 L542.85,536.64 L544.21,536.24 L545.57,535.84 L546.93,535.43 L548.29,535.03 L549.65,534.62 L551.00,534.21 L552.36,533.80 L553.72,533.39 L555.08,532.97 L556.44,532.55 L557.80,532.13 L559.16,531.70 L560.52,531.26 L561.88,530.82 L563.23,530.37 L564.59,529.90 L565.95,529.43 L567.31,528.95 L568.67,528.45 L570.03,527.95 L571.39,527.43 L572.75,526.89 L574.10,526.35 L575.46,525.79 L576.82,525.22 L578.18,524.63 L579.54,524.03 L580.90,523.42 L582.26,522.80 L583.62,522.16 L584.97,521.52 L586.33,520.86 L587.69,520.20 L589.05,519.52 L590.41,518.85 L591.77,518.16 L593.13,517.47 L594.49,516.78 L595.85,516.08 L597.20,515.38 L598.56,514.68 L599.92,513.98 L601.28,513.27 L602.64,512.57 L604.00,511.86 L605.36,511.15 L606.72,510.43 L608.07,509.71 L609.43,508.99 L610.79,508.26 L612.15,507.52 L613.51,506.76 L614.87,505.99 L616.23,505.21 L617.59,504.41 L618.94,503.58 L620.30,502.72 L621.66,501.84 L623.02,500.92 L624.38,499.96 L625.74,498.96 L627.10,497.91 L628.46,496.81 L629.82,495.66 L631.17,494.45 L632.53,493.17 L633.89,491.83 L635.25,490.41 L636.61,488.92 L637.97,487.35 L639.33,485.70 L640.69,483.96 L642.04,482.13 L643.40,480.21 L644.76,478.19 L646.12,476.08 L647.48,473.87 L648.84,471.56 L650.20,469.15 L651.56,466.63 L652.91,464.01 L654.27,461.29 L655.63,458.46 L656.99,455.53 L658.35,452.50 L659.71,449.36 L661.07,446.13 L662.43,442.79 L663.79,439.36 L665.14,435.83 L666.50,432.21 L667.86,428.49 L669.22,424.69 L670.58,420.81 L671.94,416.84 L673.30,412.79 L674.66,408.67 L676.01,404.48 L677.37,400.22 L678.73,395.90 L680.09,391.52 L681.45,387.09 L682.81,382.61 L684.17,378.08 L685.53,373.52 L686.88,368.93 L688.24,364.31 L689.60,359.67 L690.96,355.01 L692.32,350.34 L693.68,345.67 L695.04,341.00 L696.40,336.35 L697.76,331.70 L699.11,327.08 L700.47,322.49 L701.83,317.93 L703.19,313.41 L704.55,308.94 L705.91,304.52 L707.27,300.16 L708.63,295.86 L709.98,291.63 L711.34,287.48 L712.70,283.40 L714.06,279.41 L715.42,275.50 L716.78,271.69 L718.14,267.97 L719.50,264.34 L720.85,260.81 L722.21,257.39 L723.57,254.06 L724.93,250.84 L726.29,247.71 L727.65,244.69 L729.01,241.76 L730.37,238.93 L731.73,236.19 L733.08,233.54 L734.44,230.98 L735.80,228.50 L737.16,226.09 L738.52,223.75 L739.88,221.48 L741.24,219.26 L742.60,217.09 L743.95,214.97 L745.31,212.88 L746.67,210.81 L748.03,208.77 L749.39,206.73 L750.75,204.70 L752.11,202.66 L753.47,200.61 L754.82,198.54 L756.18,196.43 L757.54,194.29 L758.90,192.11 L760.26,189.88 L761.62,187.59 L762.98,185.24 L764.34,182.82 L765.70,180.34 L767.05,177.78 L768.41,175.15 L769.77,172.43 L771.13,169.64 L772.49,166.77 L773.85,163.82 L775.21,160.79 L776.57,157.69 L777.92,154.52 L779.28,151.27 L780.64,147.97 L782.00,144.60 L783.36,141.18 L784.72,137.72 L786.08,134.22 L787.44,130.68 L788.79,127.13 L790.15,123.56 L791.51,119.99 L792.87,116.43 L794.23,112.89 L795.59,109.37 L796.95,105.89 L798.31,102.47 L799.67,99.10 L801.02,95.81 L802.38,92.59 L803.74,89.48 L805.10,86.47 L806.46,83.57 L807.82,80.80 L809.18,78.16 L810.54,75.67 L811.89,73.34 L813.25,71.17 L814.61,69.17 L815.97,67.34 L817.33,65.71 L818.69,64.26 L820.05,63.01 L821.41,61.96 L822.76,61.12 L824.12,60.49 L825.48,60.06 L826.84,59.85 L828.20,59.86" stroke="#0000ff" stroke-width="4" fill="none" stroke-linejoin="round"/>
<g style="filter:grayscale(1)">
<text transform="translate(133.6,587.70) scale(0.970,1.020)" font-size="33.3" text-anchor="end" class="t">-0.1</text>
<text transform="translate(133.6,514.91) scale(0.970,1.020)" font-size="33.3" text-anchor="end" class="t">0.0</text>
<text transform="translate(133.6,442.12) scale(0.970,1.020)" font-size="33.3" text-anchor="end" class="t">0.1</text>
<text transform="translate(133.6,369.33) scale(0.970,1.020)" font-size="33.3" text-anchor="end" class="t">0.2</text>
<text transform="translate(133.6,296.54) scale(0.970,1.020)" font-size="33.3" text-anchor="end" class="t">0.3</text>
<text transform="translate(133.6,223.75) scale(0.970,1.020)" font-size="33.3" text-anchor="end" class="t">0.4</text>
<text transform="translate(133.6,150.96) scale(0.970,1.020)" font-size="33.3" text-anchor="end" class="t">0.5</text>
<text transform="translate(133.6,78.17) scale(0.970,1.020)" font-size="33.3" text-anchor="end" class="t">0.6</text>
<text transform="translate(148.20,675.2) scale(0.970,1.020)" font-size="33.3" text-anchor="middle" class="t">0.00</text>
<text transform="translate(317.88,675.2) scale(0.970,1.020)" font-size="33.3" text-anchor="middle" class="t">0.25</text>
<text transform="translate(487.55,675.2) scale(0.970,1.020)" font-size="33.3" text-anchor="middle" class="t">0.50</text>
<text transform="translate(657.23,675.2) scale(0.970,1.020)" font-size="33.3" text-anchor="middle" class="t">0.75</text>
<text transform="translate(826.90,675.2) scale(0.970,1.020)" font-size="33.3" text-anchor="middle" class="t">1.00</text>
<text transform="matrix(42.0000,0,-5.4380,40.2817,463.664,719.497)" font-size="1" class="t" font-style="italic">θ</text>
<path d="M482.0,719.7 L484.3,719.7 L502.4,691.4 L500.1,691.4 Z" fill="#000"/>
<path transform="translate(460,686) scale(0.075672)" fill="#000" d="M503,280 C515,245 535,205 575,200 L778,200 L768,238 L722,238 C705,290 680,360 672,395 C668,418 680,425 695,415 C708,405 718,390 722,372 L732,375 C728,405 705,445 660,445 C625,445 622,415 630,385 C640,340 665,280 680,238 L628,238 C612,290 592,350 556,412 C552,420 550,422 545,427 C530,445 500,450 482,440 C475,430 480,410 495,400 C525,385 580,310 612,238 L565,238 C540,240 525,255 512,283 Z"/>
<path transform="translate(20,310) scale(0.047362)" fill="#000" d="M148,190 L212,215 L215,350 C300,380 400,418 448,432 C480,440 482,410 468,380 C458,355 440,338 423,325 L435,315 C480,335 530,380 552,430 C565,470 540,505 495,500 C440,490 300,440 222,408 C222,470 250,525 292,562 L272,570 C220,545 165,480 148,425 Z"/>
<text transform="matrix(0.0000,-30.1176,27.3684,0.0000,57.500,324.654)" font-size="1" class="t" font-style="italic" font-weight="normal">n</text>
<text transform="matrix(0.0000,-27.5472,27.1014,0.0000,28.673,309.747)" font-size="1" class="t" font-style="italic" font-weight="normal">p</text>
</g>
</svg>
</body></html>
